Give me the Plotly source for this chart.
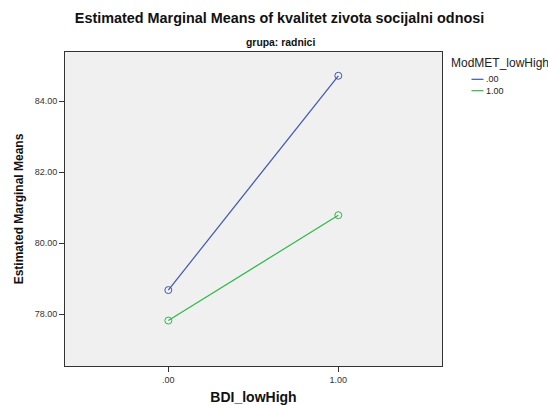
import plotly.graph_objects as go

x_categories = [0, 1]
x_ticklabels = [".00", "1.00"]
series_names = [".00", "1.00"]
blue_values = [78.68, 84.72]
green_values = [77.82, 80.79]
y_tickvals = [78, 80, 82, 84]
y_ticklabels = ["78.00", "80.00", "82.00", "84.00"]
legend_title = "ModMET_lowHigh"

colors = ["#3E58AC", "#2EB848"]
FONT = "Liberation Sans, Arial, sans-serif"

L, R, T, B = 65, 442, 52, 366
W, H = 548, 405
pw, ph = R - L, B - T


def px(xp):
    return (xp - L) / pw


def py(yp):
    return (B - yp) / ph


fig = go.Figure()
for name, vals, col in zip(series_names, [blue_values, green_values], colors):
    fig.add_trace(go.Scatter(
        x=x_categories, y=vals, name=name, mode="lines+markers", showlegend=False,
        line=dict(color=col, width=1.2),
        marker=dict(symbol="circle-open", size=7, color=col, line=dict(width=1)),
    ))

shapes = []
annotations = [
    dict(text="<b>grupa: radnici</b>", xref="paper", yref="paper",
         x=px(280), y=py(42.5), xanchor="center", yanchor="middle",
         showarrow=False, font=dict(size=10.4, color="#111111")),
    dict(text=legend_title, xref="paper", yref="paper", x=px(449), y=py(63),
         xanchor="left", yanchor="middle", showarrow=False,
         font=dict(size=12, color="#222222")),
]
for i, (name, col) in enumerate(zip(series_names, colors)):
    yy = 79.3 + i * 11.4
    shapes.append(dict(type="line", xref="paper", yref="paper",
                       x0=px(471.5), x1=px(483.5), y0=py(yy), y1=py(yy),
                       line=dict(color=col, width=1.2)))
    annotations.append(dict(text=name, xref="paper", yref="paper", x=px(484),
                            y=py(yy), xanchor="left", yanchor="middle", showarrow=False,
                            font=dict(size=9, color="#222222")))

fig.update_layout(
    width=W, height=H,
    margin=dict(l=L, r=W - R, t=T, b=H - B, autoexpand=False),
    paper_bgcolor="white", plot_bgcolor="#F0F0F0",
    font=dict(family=FONT, color="#222222"),
    showlegend=False,
    title=dict(text="<b>Estimated Marginal Means of kvalitet zivota socijalni odnosi</b>",
               x=279.5 / W, xanchor="center", y=1 - 18 / H, yanchor="middle",
               font=dict(size=14.4, color="#111111")),
    shapes=shapes,
    annotations=annotations,
    xaxis=dict(range=[-0.608, 1.61], tickvals=x_categories, ticktext=x_ticklabels,
               automargin=False,
               showgrid=False, zeroline=False, showline=True, linecolor="#333333", linewidth=1,
               mirror=True, ticks="outside", ticklen=5, tickcolor="#333333",
               tickfont=dict(size=9, color="#333333"),
               title=dict(text="<b>BDI_lowHigh</b>", font=dict(size=14, color="#111111"), standoff=10)),
    yaxis=dict(range=[76.54, 85.39], tickvals=y_tickvals, ticktext=y_ticklabels,
               automargin=False,
               showgrid=False, zeroline=False, showline=True, linecolor="#333333", linewidth=1,
               mirror=True, ticks="outside", ticklen=5, tickcolor="#333333",
               tickfont=dict(size=9, color="#333333"),
               title=dict(text="<b>Estimated Marginal Means</b>", font=dict(size=12, color="#111111"), standoff=8)),
)

fig.write_html("out.html", config={"displayModeBar": False},
               post_script="document.body.style.margin='0';document.body.style.overflow='hidden';")
